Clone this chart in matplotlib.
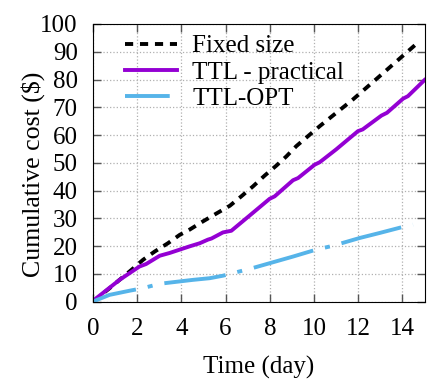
import matplotlib
matplotlib.use("Agg")
import matplotlib.pyplot as plt

# cumulative cost over time
fixed_t = [0, 0.75, 1.2, 1.74, 2.26, 2.79, 3.39, 3.92, 4.37, 4.98, 5.58, 6.19, 6.71, 7.24, 7.77,
           8.3, 8.75, 9.2, 10.26, 11.76, 12.97, 14.7]
fixed_c = [0, 4.8, 7.8, 11.4, 15.0, 18.0, 21.0, 24.0, 25.9, 28.9, 31.7, 34.5, 37.9, 41.5, 45.4,
           49.0, 52.3, 56.0, 63.2, 72.8, 81.2, 93.3]

ttl_t = [0, 0.15, 1.2, 2.1, 2.4, 3.02, 3.47, 4.38, 4.83, 5.2, 5.36, 5.88, 6.26, 7.09, 7.99, 8.22,
         9.05, 9.28, 10.03, 10.26, 11.0, 11.99, 12.2, 13.05, 13.3, 14.03, 14.25, 15.0]
ttl_c = [0, 1.2, 7.8, 12.6, 13.5, 16.5, 17.5, 19.9, 21.0, 22.3, 22.7, 24.9, 25.5, 31.0, 37.0, 37.9,
         43.7, 44.5, 49.3, 50.2, 54.8, 61.4, 62.0, 67.0, 68.0, 73.1, 74.0, 79.8]

opt_t = [0, 0.75, 1.66, 2.25, 3.02, 4.52, 5.28, 5.88, 7.24, 9.05, 10.1, 10.86, 12.07, 12.97, 14.03, 14.48]
opt_c = [0, 2.4, 3.9, 4.8, 6.4, 7.8, 8.4, 9.3, 12.1, 16.2, 18.7, 20.1, 22.9, 24.7, 26.9, 27.7]

plt.rcParams['font.family'] = 'Liberation Serif'
plt.rcParams['font.size'] = 18

fig = plt.figure(figsize=(4.4, 3.84), dpi=100)
ax = fig.add_axes([0.2114, 0.2148, 0.7534, 0.7227])

ax.plot(fixed_t, fixed_c, color='black', lw=2.8, dashes=(2.1, 1.75), label='Fixed size')
ax.plot(ttl_t, ttl_c, color='#9400d3', lw=2.8, label='TTL - practical')
ax.plot(opt_t, opt_c, color='#56b4e9', lw=2.8, linestyle=(4.4, (15.9, 3.1, 1.3, 3.1)), label='TTL-OPT')

ax.set_xlim(0, 15)
ax.set_ylim(0, 100)
ax.set_xticks(range(0, 15, 2))
ax.set_yticks(range(0, 101, 10))
ax.tick_params(direction='in', top=True, right=True, length=5.5, width=1, color='#555555')
ax.tick_params(axis='x', pad=12)
ax.tick_params(axis='y', pad=11)
ax.grid(True, color='#b0b0b0', linestyle=':', lw=0.9)
ax.set_xlabel('Time (day)', labelpad=11)
ax.set_ylabel('Cumulative cost (\\$)', fontsize=18.6)
ax.yaxis.set_label_coords(-0.145, 0.458)

ax.legend(loc='upper left', bbox_to_anchor=(0.05, 1.015), frameon=False, handlelength=2.1,
          handletextpad=0.6, labelspacing=0.15, borderaxespad=0.2)

fig.savefig('out.png', dpi=100)
